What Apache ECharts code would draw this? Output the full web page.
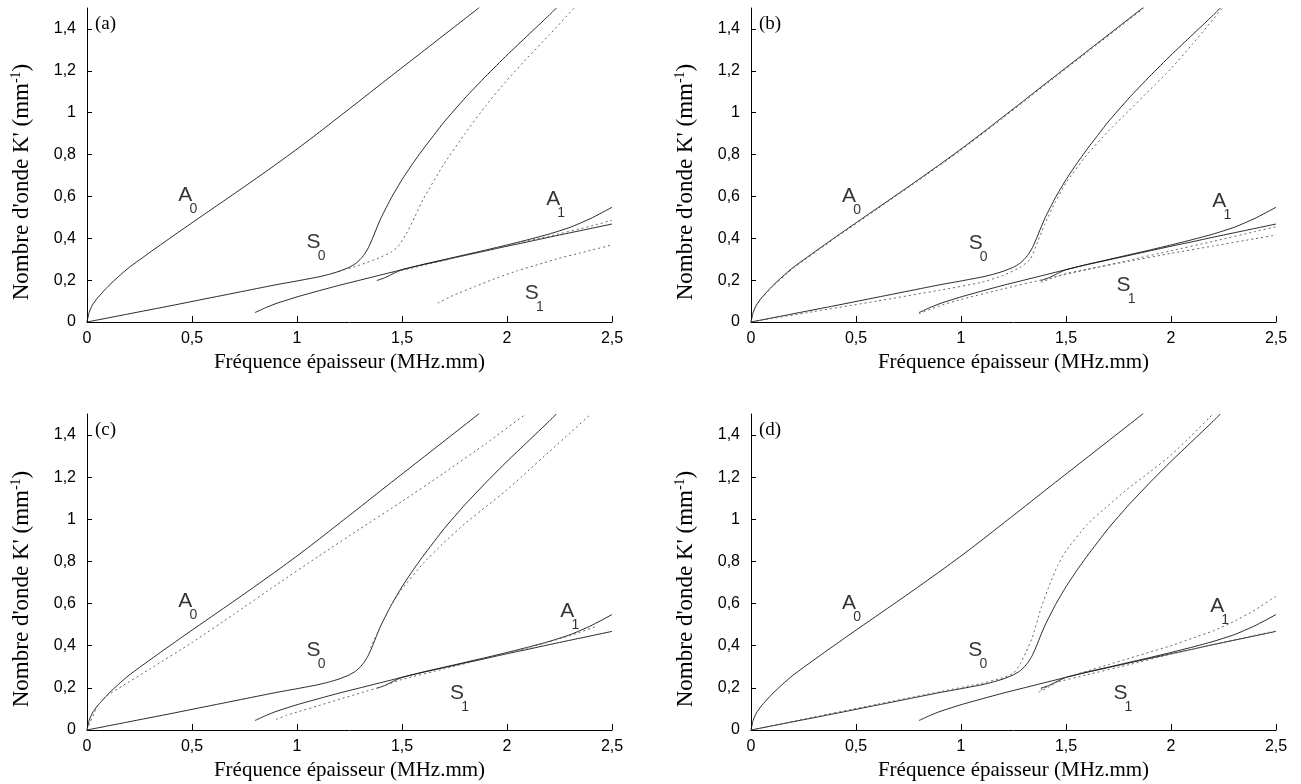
<!DOCTYPE html>
<html><head><meta charset="utf-8">
<script src="https://cdn.jsdelivr.net/npm/echarts@6/dist/echarts.min.js"></script>
<style>html,body{margin:0;padding:0;background:#fff;}#c{width:1301px;height:784px;}</style>
</head><body><div id="c"></div>
<script>
// ---- tick labels ----
const xTicks = [0, 0.5, 1, 1.5, 2, 2.5];
const yTicks = [0, 0.2, 0.4, 0.6, 0.8, 1, 1.2, 1.4];
const panelTags = ['(a)', '(b)', '(c)', '(d)'];
const xTitle = 'Fréquence épaisseur (MHz.mm)';

// ---- solid curves (same in all panels) ----
const a0X = [0, 0.01, 0.025, 0.05, 0.1, 0.15, 0.2, 0.3, 0.4, 0.5, 0.6, 0.7, 0.8, 0.9, 1.0, 1.1, 1.2, 1.3, 1.4, 1.5, 1.6, 1.7, 1.8, 1.87];
const a0Y = [0, 0.045, 0.08, 0.115, 0.17, 0.217, 0.26, 0.333, 0.404, 0.474, 0.543, 0.612, 0.682, 0.753, 0.826, 0.902, 0.98, 1.058, 1.137, 1.215, 1.293, 1.371, 1.449, 1.504];
const s0X = [0, 0.2, 0.4, 0.6, 0.8, 0.9, 1.0, 1.1, 1.15, 1.2, 1.25, 1.28, 1.3, 1.32, 1.34, 1.36, 1.38, 1.4, 1.45, 1.5, 1.55, 1.6, 1.7, 1.8, 1.9, 2.0, 2.1, 2.2, 2.235];
const s0Y = [0, 0.039, 0.078, 0.118, 0.158, 0.178, 0.196, 0.215, 0.227, 0.242, 0.262, 0.28, 0.298, 0.322, 0.355, 0.4, 0.45, 0.497, 0.595, 0.68, 0.755, 0.825, 0.955, 1.07, 1.175, 1.275, 1.37, 1.465, 1.5];
const a1X = [0.8, 0.85, 0.9, 1.0, 1.1, 1.2, 1.3, 1.4, 1.5, 1.6, 1.7, 1.8, 1.9, 2.0, 2.1, 2.2, 2.3, 2.4, 2.5];
const a1Y = [0.045, 0.068, 0.088, 0.12, 0.148, 0.175, 0.2, 0.225, 0.25, 0.275, 0.298, 0.321, 0.344, 0.368, 0.393, 0.42, 0.452, 0.495, 0.548];
const s1X = [1.38, 1.42, 1.46, 1.5, 1.6, 1.7, 1.8, 1.9, 2.0, 2.1, 2.2, 2.3, 2.4, 2.5];
const s1Y = [0.198, 0.212, 0.232, 0.25, 0.274, 0.296, 0.318, 0.34, 0.362, 0.383, 0.405, 0.426, 0.447, 0.468];

// ---- dotted curves, panel (a) ----
const aS0dX = [1.2, 1.3, 1.4, 1.45, 1.48, 1.52, 1.56, 1.6, 1.7, 1.8, 1.9, 2.0, 2.1, 2.2, 2.32];
const aS0dY = [0.242, 0.272, 0.31, 0.335, 0.36, 0.42, 0.5, 0.585, 0.755, 0.9, 1.035, 1.155, 1.265, 1.37, 1.5];
const aA1dX = [1.45, 1.6, 1.8, 2.0, 2.2, 2.4, 2.5];
const aA1dY = [0.235, 0.27, 0.318, 0.365, 0.41, 0.458, 0.486];
const aS1dX = [1.67, 1.75, 1.85, 1.95, 2.05, 2.15, 2.25, 2.35, 2.5];
const aS1dY = [0.09, 0.13, 0.17, 0.21, 0.245, 0.275, 0.305, 0.33, 0.368];

// ---- dotted curves, panel (b) ----
const bA0dX = [0, 0.01, 0.025, 0.05, 0.1, 0.2, 0.4, 0.6, 0.8, 1.0, 1.2, 1.4, 1.6, 1.8, 1.87];
const bA0dY = [0, 0.043, 0.078, 0.112, 0.167, 0.256, 0.4, 0.539, 0.678, 0.821, 0.975, 1.132, 1.288, 1.444, 1.499];
const bS0dX = [0, 0.3, 0.6, 0.9, 1.1, 1.2, 1.28, 1.33, 1.36, 1.4, 1.45, 1.5, 1.6, 1.7, 1.8, 1.9, 2.0, 2.1, 2.2, 2.245];
const bS0dY = [0, 0.05, 0.1, 0.152, 0.19, 0.222, 0.26, 0.3, 0.37, 0.47, 0.575, 0.665, 0.8, 0.91, 1.01, 1.11, 1.21, 1.325, 1.445, 1.5];
const bA1dX = [0.8, 0.9, 1.0, 1.2, 1.4, 1.6, 1.8, 2.0, 2.2, 2.4, 2.5];
const bA1dY = [0.04, 0.078, 0.108, 0.158, 0.205, 0.25, 0.295, 0.34, 0.385, 0.432, 0.455];
const bS1dX = [1.38, 1.45, 1.5, 1.6, 1.8, 2.0, 2.2, 2.4, 2.5];
const bS1dY = [0.19, 0.215, 0.232, 0.252, 0.29, 0.328, 0.363, 0.398, 0.415];

// ---- dotted curves, panel (c) ----
const cA0dX = [0, 0.05, 0.1, 0.17, 0.3, 0.5, 0.7, 0.9, 1.1, 1.3, 1.5, 1.7, 1.9, 2.09];
const cA0dY = [0, 0.115, 0.165, 0.21, 0.29, 0.415, 0.55, 0.688, 0.823, 0.955, 1.085, 1.22, 1.36, 1.5];
const cS0dX = [1.35, 1.4, 1.45, 1.5, 1.6, 1.7, 1.8, 1.9, 2.0, 2.1, 2.2, 2.3, 2.4];
const cS0dY = [0.39, 0.497, 0.595, 0.67, 0.79, 0.89, 0.98, 1.06, 1.14, 1.23, 1.32, 1.41, 1.5];
const cA1dX = [0.9, 0.95, 1.0, 1.1, 1.2, 1.3, 1.4, 1.5, 1.7, 1.9, 2.1, 2.3, 2.42];
const cA1dY = [0.05, 0.07, 0.085, 0.115, 0.145, 0.175, 0.205, 0.24, 0.29, 0.34, 0.39, 0.448, 0.49];

// ---- dotted curves, panel (d) ----
const dS0dX = [0, 0.3, 0.6, 0.9, 1.1, 1.2, 1.25, 1.28, 1.31, 1.34, 1.38, 1.42, 1.46, 1.5, 1.6, 1.7, 1.8, 1.9, 2.0, 2.1, 2.2];
const dS0dY = [0, 0.062, 0.122, 0.182, 0.222, 0.248, 0.27, 0.31, 0.37, 0.44, 0.575, 0.685, 0.78, 0.85, 0.975, 1.065, 1.15, 1.225, 1.305, 1.4, 1.5];
const dA1dX = [1.37, 1.42, 1.47, 1.5, 1.6, 1.7, 1.8, 1.9, 2.0, 2.1, 2.2, 2.3, 2.4, 2.5];
const dA1dY = [0.18, 0.205, 0.235, 0.25, 0.28, 0.31, 0.34, 0.37, 0.4, 0.435, 0.47, 0.515, 0.57, 0.635];
const dS1dX = [1.38, 1.45, 1.6, 1.8, 2.0, 2.2, 2.4, 2.5];
const dS1dY = [0.19, 0.225, 0.262, 0.31, 0.36, 0.405, 0.45, 0.47];

// ---- mode labels ----
const modeMain = ['A', 'S', 'A', 'S'];
const modeSub = ['0', '0', '1', '1'];
const labelPosA = [[0.468, 0.605], [1.079, 0.38], [2.22, 0.587], [2.118, 0.137]];
const labelPosB = [[0.467, 0.6], [1.07, 0.375], [2.23, 0.575], [1.774, 0.176]];
const labelPosC = [[0.468, 0.61], [1.079, 0.381], [2.287, 0.562], [1.762, 0.175]];
const labelPosD = [[0.467, 0.6], [1.068, 0.381], [2.22, 0.587], [1.759, 0.173]];

const grids = [
  {left: 87, top: 8, width: 525, height: 314},
  {left: 751, top: 8, width: 525, height: 314},
  {left: 87, top: 414, width: 525, height: 316},
  {left: 751, top: 414, width: 525, height: 316}
];

const panels = [
  {dotted: [[aS0dX, aS0dY], [aA1dX, aA1dY], [aS1dX, aS1dY]], labels: labelPosA},
  {dotted: [[bA0dX, bA0dY], [bS0dX, bS0dY], [bA1dX, bA1dY], [bS1dX, bS1dY]], labels: labelPosB},
  {dotted: [[cA0dX, cA0dY], [cS0dX, cS0dY], [cA1dX, cA1dY]], labels: labelPosC},
  {dotted: [[dS0dX, dS0dY], [dA1dX, dA1dY], [dS1dX, dS1dY]], labels: labelPosD}
];
const solids = [[a0X, a0Y], [s0X, s0Y], [a1X, a1Y], [s1X, s1Y]];

const comma = v => (Math.round(v * 10) / 10).toString().replace('.', ',');
const SANS = 'Liberation Sans, Arial, sans-serif';
const SERIF = 'Liberation Serif, Times New Roman, serif';

function lineSeries(xs, ys, gi, dotted) {
  return {
    type: 'line', xAxisIndex: gi, yAxisIndex: gi,
    data: xs.map((x, i) => [x, ys[i]]),
    showSymbol: false, symbol: 'none', smooth: 0.15,
    silent: true, animation: false, clip: true,
    lineStyle: dotted ? {color: '#666', width: 1, type: [2, 3]} : {color: '#111', width: 0.9},
    z: dotted ? 3 : 2
  };
}

const xAxes = [], yAxes = [], series = [], titles = [];
grids.forEach((g, gi) => {
  xAxes.push({
    gridIndex: gi, type: 'value', min: 0, max: 2.5, interval: 0.5,
    axisLine: {show: true, onZero: false, lineStyle: {color: '#000', width: 1}},
    axisTick: {show: true, inside: true, length: 6, lineStyle: {color: '#000'}},
    axisLabel: {formatter: comma, fontFamily: SANS, fontSize: 16, color: '#000', margin: 9},
    splitLine: {show: false},
    name: xTitle, nameLocation: 'middle', nameGap: 30,
    nameTextStyle: {fontFamily: SERIF, fontSize: 21, color: '#000'}
  });
  yAxes.push({
    gridIndex: gi, type: 'value', min: 0, max: 1.5,
    axisLine: {show: true, onZero: false, lineStyle: {color: '#000', width: 1}},
    axisTick: {show: true, inside: true, length: 5, customValues: yTicks, lineStyle: {color: '#000'}},
    axisLabel: {customValues: yTicks, formatter: comma, fontFamily: SANS, fontSize: 16, color: '#000', margin: 11},
    splitLine: {show: false},
    name: "{t|Nombre d'onde K' (mm}{s|-1}{t|)}", nameLocation: 'middle', nameGap: 52, nameRotate: 90,
    nameTextStyle: {padding: [0, 34, 0, 0], rich: {
      t: {fontFamily: SERIF, fontSize: 23, color: '#000', lineHeight: 26},
      s: {fontFamily: SERIF, fontSize: 14, color: '#000', verticalAlign: 'top', lineHeight: 26}
    }}
  });
  titles.push({text: panelTags[gi], left: g.left + 3, top: g.top + 2,
    textStyle: {fontFamily: SERIF, fontSize: 19, fontWeight: 'normal', color: '#000'}});
  solids.forEach(s => series.push(lineSeries(s[0], s[1], gi, false)));
  panels[gi].dotted.forEach(s => series.push(lineSeries(s[0], s[1], gi, true)));
  const lp = panels[gi].labels;
  series.push({
    type: 'scatter', xAxisIndex: gi, yAxisIndex: gi, symbolSize: 0, silent: true, animation: false,
    data: lp.map((p, i) => ({value: p, name: modeMain[i]})),
    label: {show: true, position: 'inside', formatter: '{b}', fontFamily: SANS, fontSize: 21, color: '#000'}
  });
  series.push({
    type: 'scatter', xAxisIndex: gi, yAxisIndex: gi, symbolSize: 0, silent: true, animation: false,
    data: lp.map((p, i) => ({value: p, name: modeSub[i]})),
    label: {show: true, position: 'inside', offset: [8, 14], formatter: '{b}', fontFamily: SANS, fontSize: 14, color: '#000'}
  });
});

const chart = echarts.init(document.getElementById('c'), null, {renderer: 'canvas'});
chart.setOption({
  backgroundColor: '#fff', animation: false,
  title: titles, grid: grids, xAxis: xAxes, yAxis: yAxes, series: series
});
</script></body></html>
